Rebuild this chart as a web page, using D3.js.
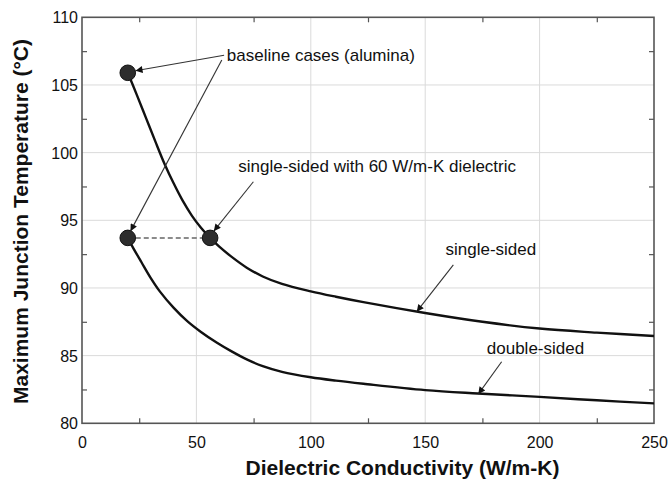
<!DOCTYPE html>
<html>
<head>
<meta charset="utf-8">
<script src="https://cdn.jsdelivr.net/npm/d3@7"></script>
<style>
  html, body { margin: 0; padding: 0; background: #fff; }
  svg { display: block; font-family: Arial, "Liberation Sans", sans-serif; }
</style>
</head>
<body>
<svg id="chart" width="670" height="481"></svg>
<script>
// ---- data ----
const singleX = [20, 24, 28, 32, 36, 40, 44, 48, 52, 56, 60, 65, 72, 79, 87.4, 100, 111, 123, 150, 175, 200, 225, 250];
const singleY = [105.9, 104.25, 102.55, 100.85, 99.2, 97.75, 96.45, 95.35, 94.45, 93.7, 93.05, 92.35, 91.5, 90.85, 90.3, 89.75, 89.35, 88.95, 88.15, 87.5, 87.0, 86.7, 86.45];
const doubleX = [20, 22.4, 26, 30, 34, 40, 46, 52, 59, 65, 72, 79, 87.4, 100, 111, 123, 150, 173, 200, 225, 250];
const doubleY = [93.7, 92.95, 91.9, 90.75, 89.75, 88.55, 87.55, 86.75, 85.95, 85.35, 84.72, 84.22, 83.8, 83.4, 83.15, 82.92, 82.45, 82.2, 81.95, 81.7, 81.47];
const markerX = [20, 20, 56];
const markerY = [105.9, 93.7, 93.7];
const xTicks = [0, 50, 100, 150, 200, 250];
const yTicks = [80, 85, 90, 95, 100, 105, 110];
const xMinor = [25, 75, 125, 175, 225];
const yMinor = [82.5, 87.5, 92.5, 97.5, 102.5, 107.5];
const xTitle = "Dielectric Conductivity (W/m-K)";
const yTitle = "Maximum Junction Temperature (°C)";
// annotations: label text, label anchor (data), arrows from -> to (data)
const annLabels = ["baseline cases (alumina)", "single-sided with 60 W/m-K dielectric", "single-sided", "double-sided"];
const annLabelX = [63.3, 68.3, 178.7, 198.2];
const annLabelY = [107.2, 98.96, 92.86, 85.5];
const annAnchor = ["start", "start", "middle", "middle"];
const arrowFromX = [62.1, 61.1, 74.9, 162.3, 183.4];
const arrowFromY = [107.2, 106.85, 97.85, 91.7, 84.55];
const arrowToX = [23.4, 21.2, 57.6, 146.3, 173.2];
const arrowToY = [106.05, 94.2, 94.2, 88.25, 82.16];

// ---- layout ----
const svg = d3.select("#chart");
const x = d3.scaleLinear().domain([0, 250]).range([82, 654]);
const y = d3.scaleLinear().domain([80, 110]).range([423.3, 17.3]);
const FONT = "Arial, 'Liberation Sans', sans-serif";

// gridlines
svg.append("g").selectAll("line").data(xTicks.slice(1, -1)).join("line")
  .attr("x1", d => x(d)).attr("x2", d => x(d)).attr("y1", y(80)).attr("y2", y(110))
  .attr("stroke", "#dadada").attr("stroke-width", 1);
svg.append("g").selectAll("line").data(yTicks.slice(1, -1)).join("line")
  .attr("y1", d => y(d)).attr("y2", d => y(d)).attr("x1", x(0)).attr("x2", x(250))
  .attr("stroke", "#dadada").attr("stroke-width", 1);

// minor inward ticks on all four sides
const tickLen = 5;
function styleAxis(g) {
  g.select(".domain").remove();
  g.selectAll("line").attr("stroke", "#555").attr("stroke-width", 1.2);
}
svg.append("g").attr("transform", `translate(0,${y(80)})`)
  .call(d3.axisBottom(x).tickValues(xMinor).tickSize(-tickLen).tickFormat("")).call(styleAxis);
svg.append("g").attr("transform", `translate(0,${y(110)})`)
  .call(d3.axisTop(x).tickValues(xMinor).tickSize(-tickLen).tickFormat("")).call(styleAxis);
svg.append("g").attr("transform", `translate(${x(0)},0)`)
  .call(d3.axisLeft(y).tickValues(yMinor).tickSize(-tickLen).tickFormat("")).call(styleAxis);
svg.append("g").attr("transform", `translate(${x(250)},0)`)
  .call(d3.axisRight(y).tickValues(yMinor).tickSize(-tickLen).tickFormat("")).call(styleAxis);

// frame
svg.append("rect").attr("x", x(0)).attr("y", y(110))
  .attr("width", x(250) - x(0)).attr("height", y(80) - y(110))
  .attr("fill", "none").attr("stroke", "#555").attr("stroke-width", 1.6);

// tick labels
const gLB = svg.append("g").attr("transform", `translate(0,${y(80)})`)
  .call(d3.axisBottom(x).tickValues(xTicks).tickSize(0).tickPadding(0).tickFormat(d3.format("d")));
gLB.select(".domain").remove();
gLB.selectAll("text").attr("font-size", 16).attr("fill", "#111").attr("font-family", FONT)
  .attr("dy", null).attr("y", 19).attr("dominant-baseline", "central");
const gLL = svg.append("g").attr("transform", `translate(${x(0)},0)`)
  .call(d3.axisLeft(y).tickValues(yTicks).tickSize(0).tickPadding(4).tickFormat(d3.format("d")));
gLL.select(".domain").remove();
gLL.selectAll("text").attr("font-size", 16).attr("fill", "#111").attr("font-family", FONT)
  .attr("dy", null).attr("dominant-baseline", "central");

// dashed connector
svg.append("line")
  .attr("x1", x(markerX[1])).attr("y1", y(markerY[1]))
  .attr("x2", x(markerX[2])).attr("y2", y(markerY[2]))
  .attr("stroke", "#666").attr("stroke-width", 1.5).attr("stroke-dasharray", "5,3");

// curves
const line = d3.line().x(d => x(d[0])).y(d => y(d[1])).curve(d3.curveCatmullRom.alpha(0.5));
svg.append("path").datum(singleX.map((v, i) => [v, singleY[i]]))
  .attr("d", line).attr("fill", "none").attr("stroke", "#111").attr("stroke-width", 2.4);
svg.append("path").datum(doubleX.map((v, i) => [v, doubleY[i]]))
  .attr("d", line).attr("fill", "none").attr("stroke", "#111").attr("stroke-width", 2.4);

// markers
svg.append("g").selectAll("circle").data(markerX.map((v, i) => [v, markerY[i]])).join("circle")
  .attr("cx", d => x(d[0])).attr("cy", d => y(d[1])).attr("r", 7.8)
  .attr("fill", "#2d2d2d").attr("stroke", "#111").attr("stroke-width", 1);

// arrows
svg.append("defs").append("marker")
  .attr("id", "ah").attr("viewBox", "0 0 10 10").attr("refX", 10).attr("refY", 5)
  .attr("markerWidth", 11).attr("markerHeight", 7).attr("markerUnits", "userSpaceOnUse")
  .attr("orient", "auto")
  .append("path").attr("d", "M0,0 L10,5 L0,10 z").attr("fill", "#111");
svg.append("g").selectAll("line").data(arrowFromX.map((v, i) => i)).join("line")
  .attr("x1", i => x(arrowFromX[i])).attr("y1", i => y(arrowFromY[i]))
  .attr("x2", i => x(arrowToX[i])).attr("y2", i => y(arrowToY[i]))
  .attr("stroke", "#333").attr("stroke-width", 1.1).attr("marker-end", "url(#ah)");

// annotation labels
svg.append("g").selectAll("text").data(annLabels).join("text")
  .attr("x", (d, i) => x(annLabelX[i])).attr("y", (d, i) => y(annLabelY[i]))
  .attr("text-anchor", (d, i) => annAnchor[i]).attr("dominant-baseline", "central")
  .attr("font-size", 17).attr("fill", "#111").text(d => d);

// axis titles
svg.append("text").attr("x", 402.5).attr("y", 467).attr("text-anchor", "middle")
  .attr("dominant-baseline", "central").attr("font-size", 21).attr("font-weight", "bold")
  .attr("fill", "#111").text(xTitle);
const yt = svg.append("text").attr("transform", "translate(20.7,221.5) rotate(-90)").attr("text-anchor", "middle")
  .attr("dominant-baseline", "central").attr("font-size", 21).attr("font-weight", "bold")
  .attr("fill", "#111").text(yTitle);
const ylen = yt.node().getComputedTextLength();
if (ylen > 383) yt.attr("font-size", 21 * 383 / ylen);
</script>
</body>
</html>
